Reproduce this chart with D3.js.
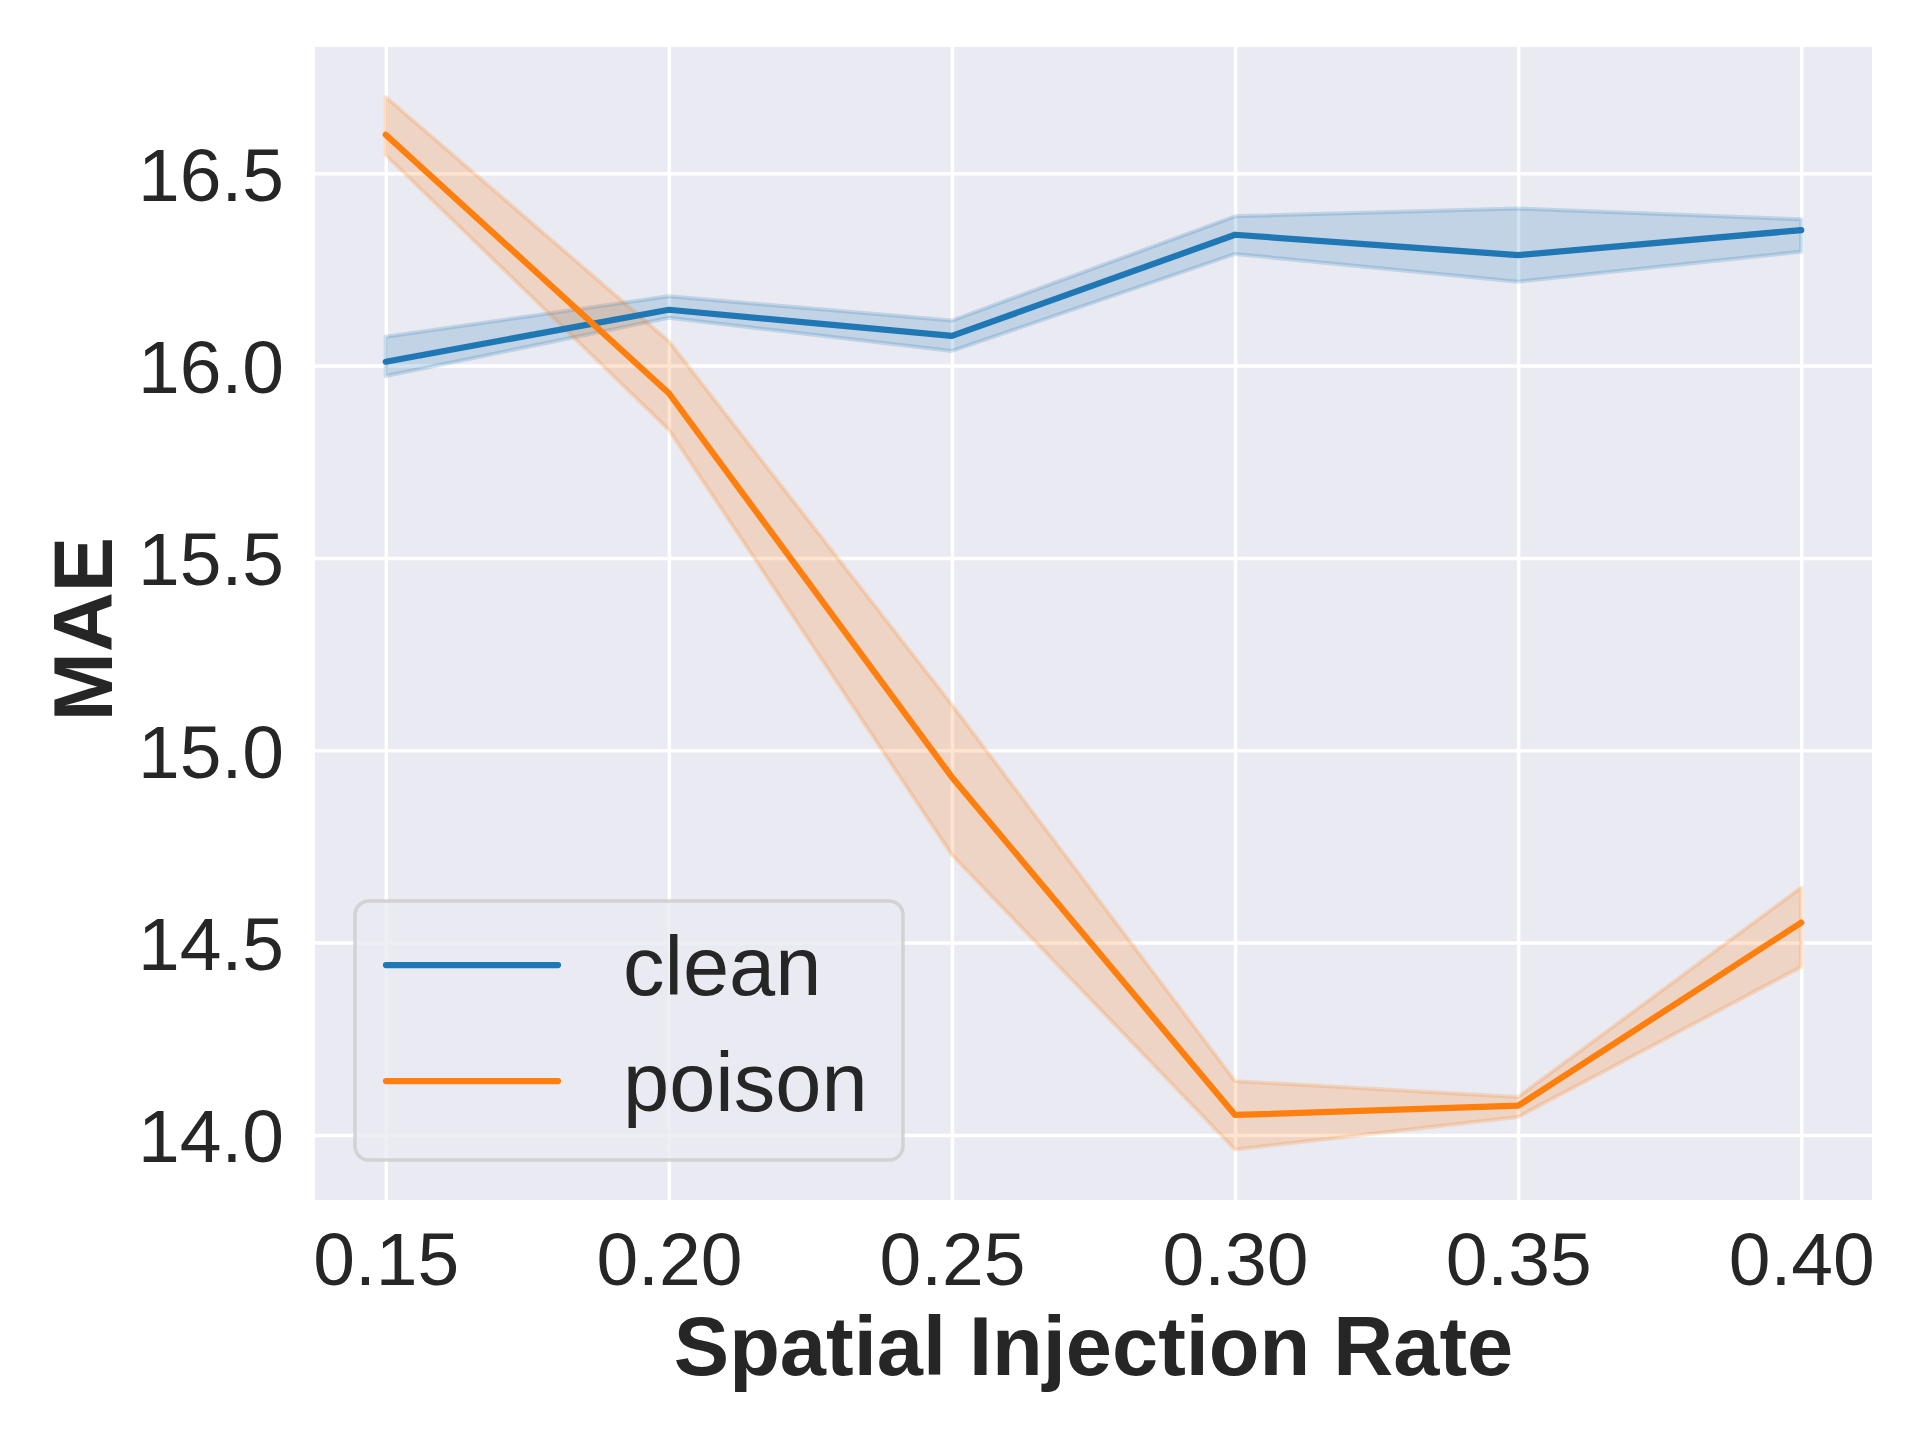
<!DOCTYPE html>
<html>
<head>
<meta charset="utf-8">
<title>MAE vs spatial injection rate</title>
<style>
  body { margin: 0; background: #fff; }
  svg { display: block; }
</style>
</head>
<body>
<svg></svg>
<script src="https://d3js.org/d3.v7.min.js"></script>
<script>
// values
const rates = [0.15, 0.20, 0.25, 0.30, 0.35, 0.40];
const cleanMean  = [16.010, 16.145, 16.077, 16.340, 16.287, 16.352];
const cleanLow   = [15.973, 16.124, 16.038, 16.290, 16.218, 16.296];
const cleanHigh  = [16.075, 16.180, 16.117, 16.388, 16.408, 16.380];
const poisonMean = [16.600, 15.928, 14.930, 14.052, 14.076, 14.552];
const poisonLow  = [16.547, 15.833, 14.728, 13.962, 14.047, 14.437];
const poisonHigh = [16.698, 16.063, 15.118, 14.140, 14.099, 14.643];
const yTicks = [14.0, 14.5, 15.0, 15.5, 16.0, 16.5];
const seriesNames = ["clean", "poison"];

const width = 1920, height = 1440;
const plotLeft = 315, plotRight = 1872, plotTop = 47, plotBottom = 1200;
const font = "'Liberation Sans', Arial, sans-serif";
const ink = "#262626";
const colors = { clean: "#1f77b4", poison: "#ff7f0e" };

const svg = d3.select("svg").attr("width", width).attr("height", height);

const x = d3.scaleLinear().domain([0.1375, 0.4125]).range([plotLeft, plotRight]);
const y = d3.scaleLinear().domain([13.831, 16.828]).range([plotBottom, plotTop]);

// axes background
svg.append("rect")
    .attr("x", plotLeft).attr("y", plotTop)
    .attr("width", plotRight - plotLeft).attr("height", plotBottom - plotTop)
    .attr("fill", "#eaeaf2");

// grid
let gx = svg.append("g")
    .attr("transform", "translate(0," + plotBottom + ")")
    .call(d3.axisBottom(x).tickValues(rates).tickSize(-(plotBottom - plotTop)).tickFormat(""));
let gy = svg.append("g")
    .attr("transform", "translate(" + plotLeft + ",0)")
    .call(d3.axisLeft(y).tickValues(yTicks).tickSize(-(plotRight - plotLeft)).tickFormat(""));
[gx, gy].forEach(g => {
    g.select(".domain").remove();
    g.selectAll("line").attr("stroke", "#fff").attr("stroke-width", 3.5);
});

const series = [
    { name: "clean", mean: cleanMean, lo: cleanLow, hi: cleanHigh },
    { name: "poison", mean: poisonMean, lo: poisonLow, hi: poisonHigh }
];

const band = d3.area()
    .x((d, i) => x(rates[i]))
    .y0(d => y(d[0]))
    .y1(d => y(d[1]));
const line = d3.line()
    .x((d, i) => x(rates[i]))
    .y(d => y(d));

// confidence bands first, then the mean lines on top
series.forEach(s => {
    svg.append("path")
        .datum(s.lo.map((v, i) => [v, s.hi[i]]))
        .attr("d", band)
        .attr("fill", colors[s.name]).attr("fill-opacity", 0.2)
        .attr("stroke", colors[s.name]).attr("stroke-opacity", 0.2)
        .attr("stroke-width", 4)
        .attr("stroke-linejoin", "round");
});
series.forEach(s => {
    svg.append("path")
        .datum(s.mean)
        .attr("d", line)
        .attr("fill", "none")
        .attr("stroke", colors[s.name])
        .attr("stroke-width", 6.25)
        .attr("stroke-linecap", "round")
        .attr("stroke-linejoin", "round");
});

// tick labels
let ax = svg.append("g")
    .attr("transform", "translate(0," + plotBottom + ")")
    .call(d3.axisBottom(x).tickValues(rates).tickSize(0).tickPadding(32).tickFormat(d3.format(".2f")));
let ay = svg.append("g")
    .attr("transform", "translate(" + plotLeft + ",0)")
    .call(d3.axisLeft(y).tickValues(yTicks).tickSize(0).tickPadding(31).tickFormat(d3.format(".1f")));
[ax, ay].forEach(g => {
    g.select(".domain").remove();
    g.attr("font-family", font).attr("font-size", 75);
    g.selectAll("text").attr("fill", ink);
});
ay.selectAll("text").attr("dy", "0.36em");

// axis titles
svg.append("text")
    .attr("x", (plotLeft + plotRight) / 2).attr("y", 1375)
    .attr("text-anchor", "middle")
    .attr("font-family", font).attr("font-size", 83).attr("font-weight", "bold")
    .attr("fill", ink)
    .text("Spatial Injection Rate");
svg.append("text")
    .attr("transform", "translate(112,629) rotate(-90)")
    .attr("text-anchor", "middle")
    .attr("font-family", font).attr("font-size", 83).attr("font-weight", "bold")
    .attr("fill", ink)
    .text("MAE");

// legend
let legend = svg.append("g").attr("transform", "translate(355,901)");
legend.append("rect")
    .attr("width", 548).attr("height", 259)
    .attr("rx", 14).attr("ry", 14)
    .attr("fill", "#eaeaf2").attr("fill-opacity", 0.8)
    .attr("stroke", "#cccccc").attr("stroke-opacity", 0.8)
    .attr("stroke-width", 3.5);
let item = legend.selectAll(".item")
    .data(seriesNames)
    .enter().append("g")
    .attr("class", "item")
    .attr("transform", (d, i) => "translate(0," + (64 + i * 116) + ")");
item.append("line")
    .attr("x1", 31).attr("x2", 203)
    .attr("stroke", d => colors[d])
    .attr("stroke-width", 6.25)
    .attr("stroke-linecap", "round");
item.append("text")
    .attr("x", 268).attr("y", 29.5)
    .attr("font-family", font).attr("font-size", 83)
    .attr("fill", ink)
    .text(d => d);
</script>
</body>
</html>
